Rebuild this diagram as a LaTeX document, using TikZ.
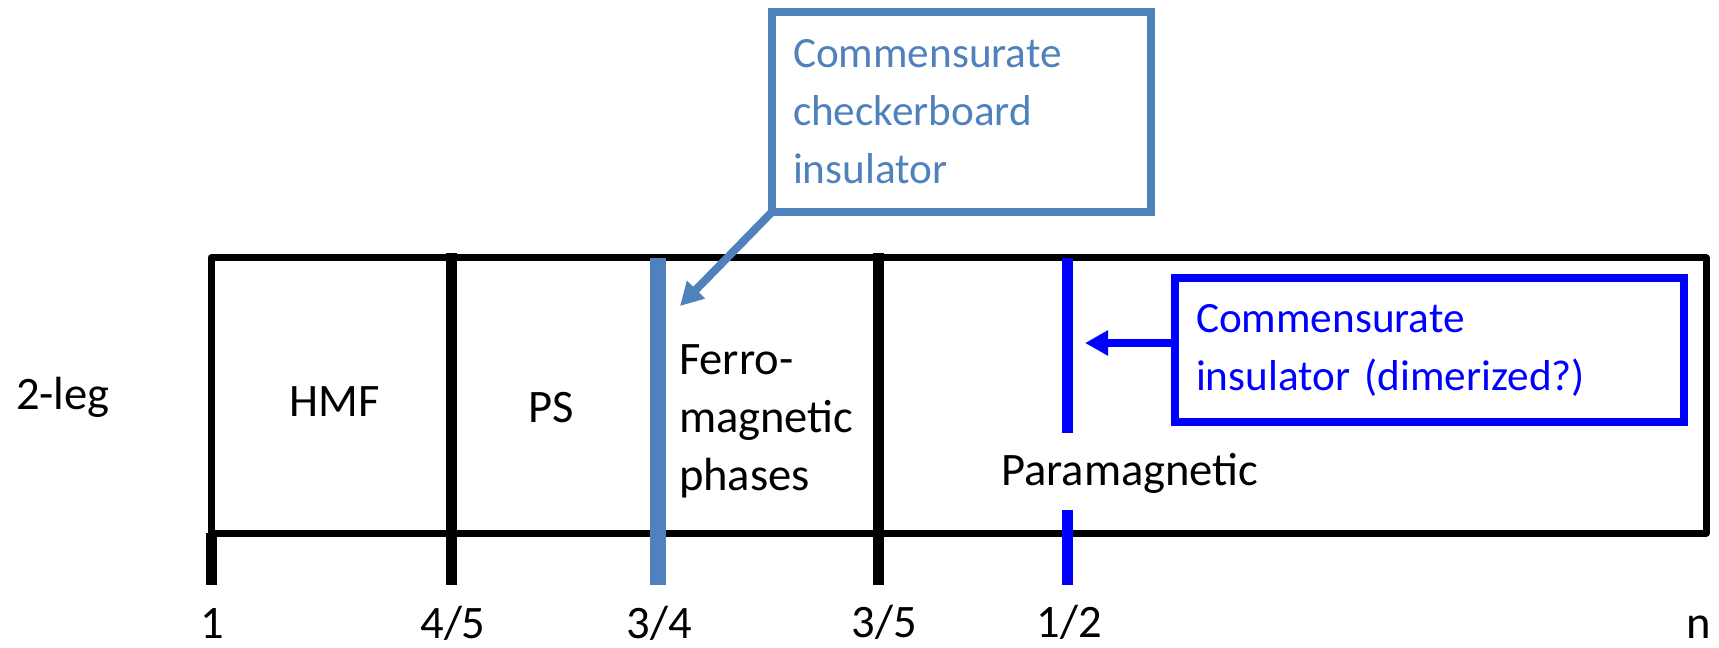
\documentclass[tikz,border=0pt]{standalone}
\usepackage{fontspec}
\setmainfont{Carlito}
\usetikzlibrary{arrows.meta}
\definecolor{officeblue}{HTML}{4F81BD}

\begin{document}
\begin{tikzpicture}[x=0.02cm,y=-0.02cm,>={Triangle[length=0.46cm,width=0.48cm]},
  every node/.style={font=\fontsize{26.5pt}{33pt}\selectfont, inner sep=0pt, outer sep=0pt},
  phase node/.style={align=left},
  tick node/.style={anchor=base},
  note box/.style={draw, line width=0.15cm, inner xsep=0.42cm, align=left, anchor=north west,
    font=\fontsize{24.6pt}{33pt}\selectfont},
  divider/.style={line width=0.22cm},
  frame/.style={line width=0.14cm, line join=round}]

  \useasboundingbox (0,0) rectangle (1719,648);

  \draw[frame] (211,258) rectangle (1706,533);
  \draw[divider] (451,253) -- (451,585);
  \draw[divider] (878,253) -- (878,585);
  \draw[divider] (211,533) -- (211,585);
  \draw[officeblue, line width=0.32cm] (658,258) -- (658,585);
  \draw[blue, line width=0.22cm] (1067,258) -- (1067,433) (1067,510) -- (1067,585);

  \node[anchor=base west] (leg) at (16,409) {2-leg};
  \node[anchor=base] (hmf) at (335,416) {HMF};
  \node[anchor=base] (ps) at (551,422) {PS};
  \node[phase node, anchor=north west] (fm) at (679,345) {Ferro-\\magnetic\\phases};
  \node[anchor=base west] (pm) at (1001,485) {Paramagnetic};

  \node[tick node] (t1) at (212,638) {1};
  \node[tick node] (t45) at (453,638) {4/5};
  \node[tick node] (t34) at (659,638) {3/4};
  \node[tick node] (t35) at (884,637) {3/5};
  \node[tick node] (t12) at (1069,637) {1/2};
  \node[tick node] (tn) at (1699,638) {n};

  \node[note box, officeblue, text width=6.74cm, minimum height=4cm] (cb) at (772,12) {Commensurate\\checkerboard\\insulator};
  \node[note box, blue, text width=9.34cm, minimum height=2.88cm] (ib) at (1175,278) {Commensurate\\insulator (dimerized?)};

  \coordinate (ckTip) at (680,306);
  \coordinate (diTip) at (1085,343);

  \path[->, officeblue, line width=0.16cm]
       (cb.south west) edge (ckTip);
  \path[->, blue, line width=0.16cm]
       (ib.west |- diTip) edge (diTip);
\end{tikzpicture}
\end{document}
